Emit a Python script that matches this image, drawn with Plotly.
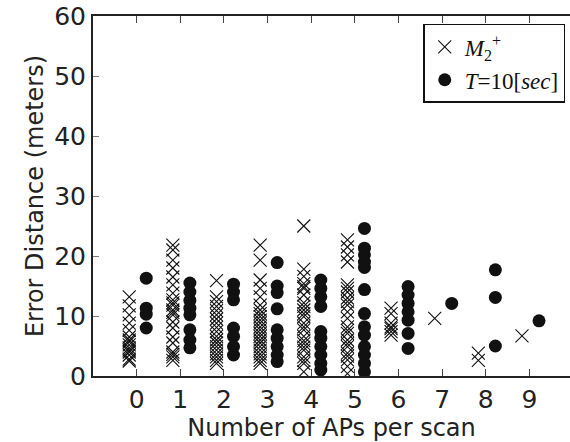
import plotly.graph_objects as go

# Number of APs seen per scan (x categories)
ap_counts = [0, 1, 2, 3, 4, 5, 6, 7, 8, 9]
tick_labels = [str(n) for n in ap_counts]

# Error distances (m) for the M2+ method, one list per AP count
m2_errors = [
    [13.2, 11.7, 10.2, 8.8, 7.6, 6.5, 6.0, 5.7, 5.2, 4.7, 4.3, 4.0, 3.5, 2.8, 2.5],
    [21.8, 21.0, 19.3, 18.0, 16.5, 15.2, 13.8, 12.7, 12.2, 11.8, 11.0, 10.6, 10.2,
     9.0, 8.0, 6.5, 5.5, 4.0, 3.6, 3.2, 2.6],
    [15.9, 13.2, 12.4, 11.6, 10.9, 10.2, 9.5, 8.8, 8.1, 7.4, 6.6, 6.0, 5.5, 4.9,
     4.3, 3.7, 3.2, 2.6, 2.1],
    [21.8, 19.3, 16.0, 14.6, 13.2, 11.8, 11.0, 10.4, 9.9, 9.3, 8.8, 8.2, 7.7, 7.1,
     6.6, 6.0, 5.5, 4.9, 4.3, 3.7, 3.2, 2.6, 2.1],
    [25.0, 17.8, 16.6, 15.4, 14.9, 14.6, 13.5, 12.2, 11.6, 11.0, 10.4, 9.9, 8.8,
     8.2, 7.7, 6.6, 5.9, 5.4, 4.8, 4.3, 3.2, 2.6, 2.1, 0.7],
    [22.7, 21.5, 20.2, 19.0, 15.2, 14.6, 14.0, 13.0, 12.4, 11.8, 10.7, 9.6, 8.2,
     7.6, 7.1, 6.0, 5.4, 4.9, 3.8, 3.3, 2.7, 1.6, 0.4],
    [11.3, 10.4, 8.8, 8.2, 7.9, 7.4, 6.8],
    [9.6],
    [3.8, 2.6],
    [6.7],
]

# Error distances (m) for the T=10[sec] method, one list per AP count
t10_errors = [
    [16.3, 11.3, 10.3, 8.0],
    [15.5, 14.0, 12.6, 11.3, 10.2, 7.7, 6.0, 4.7],
    [15.3, 14.0, 12.7, 8.0, 6.6, 4.9, 3.5],
    [18.9, 15.0, 13.9, 11.2, 7.7, 6.3, 4.9, 3.5, 2.4],
    [16.0, 14.6, 13.2, 11.6, 7.4, 6.3, 4.9, 3.5, 2.1, 1.0],
    [24.6, 21.3, 20.2, 19.0, 18.1, 14.4, 10.4, 8.2, 6.8, 4.9, 3.5, 2.1, 0.7],
    [14.9, 13.5, 12.1, 10.7, 9.3, 7.1, 4.6],
    [12.1],
    [17.7, 13.1, 5.0],
    [9.2],
]

y_ticks = [0, 10, 20, 30, 40, 50, 60]

# side-by-side placement of the two series around each category
M2_SHIFT = -0.17
T10_SHIFT = 0.22


def flatten(groups, shift):
    xs, ys = [], []
    for n, vals in zip(ap_counts, groups):
        for v in vals:
            xs.append(n + shift)
            ys.append(v)
    return xs, ys


m2_x, m2_y = flatten(m2_errors, M2_SHIFT)
t10_x, t10_y = flatten(t10_errors, T10_SHIFT)

fig = go.Figure()
fig.add_trace(go.Scatter(
    x=m2_x, y=m2_y, mode="markers",
    name="<i>M</i><sub>2</sub><sup>+</sup>",
    legendgroup="m2",
    marker=dict(symbol="x-thin-open", size=13, color="#111",
                line=dict(width=1.1, color="#111")),
))
fig.add_trace(go.Scatter(
    x=t10_x, y=t10_y, mode="markers",
    name="<i>T</i>=10[<i>sec</i>]",
    legendgroup="t10",
    marker=dict(symbol="circle", size=13, color="#111", line=dict(width=0)),
))

tick_font = dict(family="DejaVu Sans", size=25, color="#222")
title_font = dict(family="DejaVu Sans", size=24, color="#222")

fig.update_layout(
    width=570, height=442,
    margin=dict(l=93, r=0, t=16, b=66),
    paper_bgcolor="white", plot_bgcolor="white",
    showlegend=True,
    legend=dict(
        x=0.99, y=0.978, xanchor="right", yanchor="top",
        bgcolor="white", bordercolor="#111", borderwidth=1.5,
        font=dict(family="Liberation Serif", size=23, color="#111"),
        tracegroupgap=0, itemwidth=30,
    ),
    xaxis=dict(
        range=[-1, 9.93], tickvals=ap_counts, ticktext=tick_labels,
        ticks="inside", ticklen=7, tickwidth=1, tickcolor="#444",
        showline=True, linewidth=2, linecolor="#222", mirror="ticks",
        showgrid=False, zeroline=False,
        tickfont=tick_font,
        title=dict(text="Number of APs per scan", font=title_font, standoff=4),
    ),
    yaxis=dict(
        range=[0, 60], tickvals=y_ticks,
        ticks="inside", ticklen=6, tickwidth=1, tickcolor="#777",
        showline=True, linewidth=2, linecolor="#222", mirror=False,
        showgrid=False, zeroline=False,
        tickfont=tick_font,
        title=dict(text="Error Distance (meters)", font=title_font, standoff=4),
    ),
)

fig.write_html("out.html")
